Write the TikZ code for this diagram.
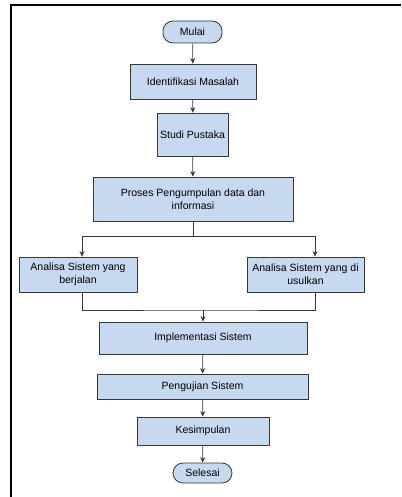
\documentclass[tikz,border=0pt]{standalone}
\usepackage{fontspec}
\setmainfont{Liberation Sans}
\usetikzlibrary{arrows.meta}
\definecolor{boxblue}{RGB}{198,217,240}
\definecolor{lineg}{RGB}{55,55,55}

\begin{document}
\begin{tikzpicture}[x=1pt,y=-1pt,
  proc/.style={draw=lineg, fill=boxblue, line width=.8pt, inner sep=0pt, align=center, font=\fontsize{10.5}{13}\selectfont},
  term/.style={proc, rounded corners=10pt},
  link/.style={draw=lineg, line width=.7pt},
  flow/.style={link, -{Stealth[length=5.5pt,width=5pt]}}]
\useasboundingbox (0,0) rectangle (401,497);
\draw[black, line width=2pt] (11,497) -- (11,5) -- (401,5);
\node[term, minimum width=59, minimum height=22] (mulai) at (192.5,32) {Mulai};
\node[proc, minimum width=126, minimum height=35] (ident) at (193,81.5) {Identifikasi Masalah};
\node[proc, minimum width=71, minimum height=43] (studi) at (192.5,134.5) {Studi Pustaka};
\node[proc, minimum width=200, minimum height=44] (proses) at (193,199) {Proses Pengumpulan data dan\\informasi};
\node[proc, minimum width=118, minimum height=35] (analL) at (78,274.5) {Analisa Sistem yang\\berjalan};
\node[proc, minimum width=117, minimum height=35] (analR) at (305.5,274.5) {Analisa Sistem yang di\\usulkan};
\node[proc, minimum width=208, minimum height=32] (impl) at (203,338) {Implementasi Sistem};
\node[proc, minimum width=211, minimum height=25] (uji) at (202.5,386.5) {Pengujian Sistem};
\node[proc, minimum width=132, minimum height=28] (kes) at (203,431) {Kesimpulan};
\node[term, minimum width=59, minimum height=20] (selesai) at (202.5,473) {Selesai};
\coordinate (split) at (193,236);
\coordinate (merge) at (203,310);
\foreach \a/\b in {mulai/ident, ident/studi, studi/proses, impl/uji, uji/kes, kes/selesai}
  \draw[flow] (\a) -- (\b);
% percabangan
\draw[link] (proses) -- (split);
\draw[flow] (split) -| ([xshift=4pt]analL.north);
\draw[flow] (split) -| ([xshift=9.5pt]analR.north);
\draw[link] ([xshift=4pt]analL.south) |- (merge) -| ([xshift=9.5pt]analR.south);
\draw[flow] (merge) -- (impl);
\end{tikzpicture}
\end{document}
